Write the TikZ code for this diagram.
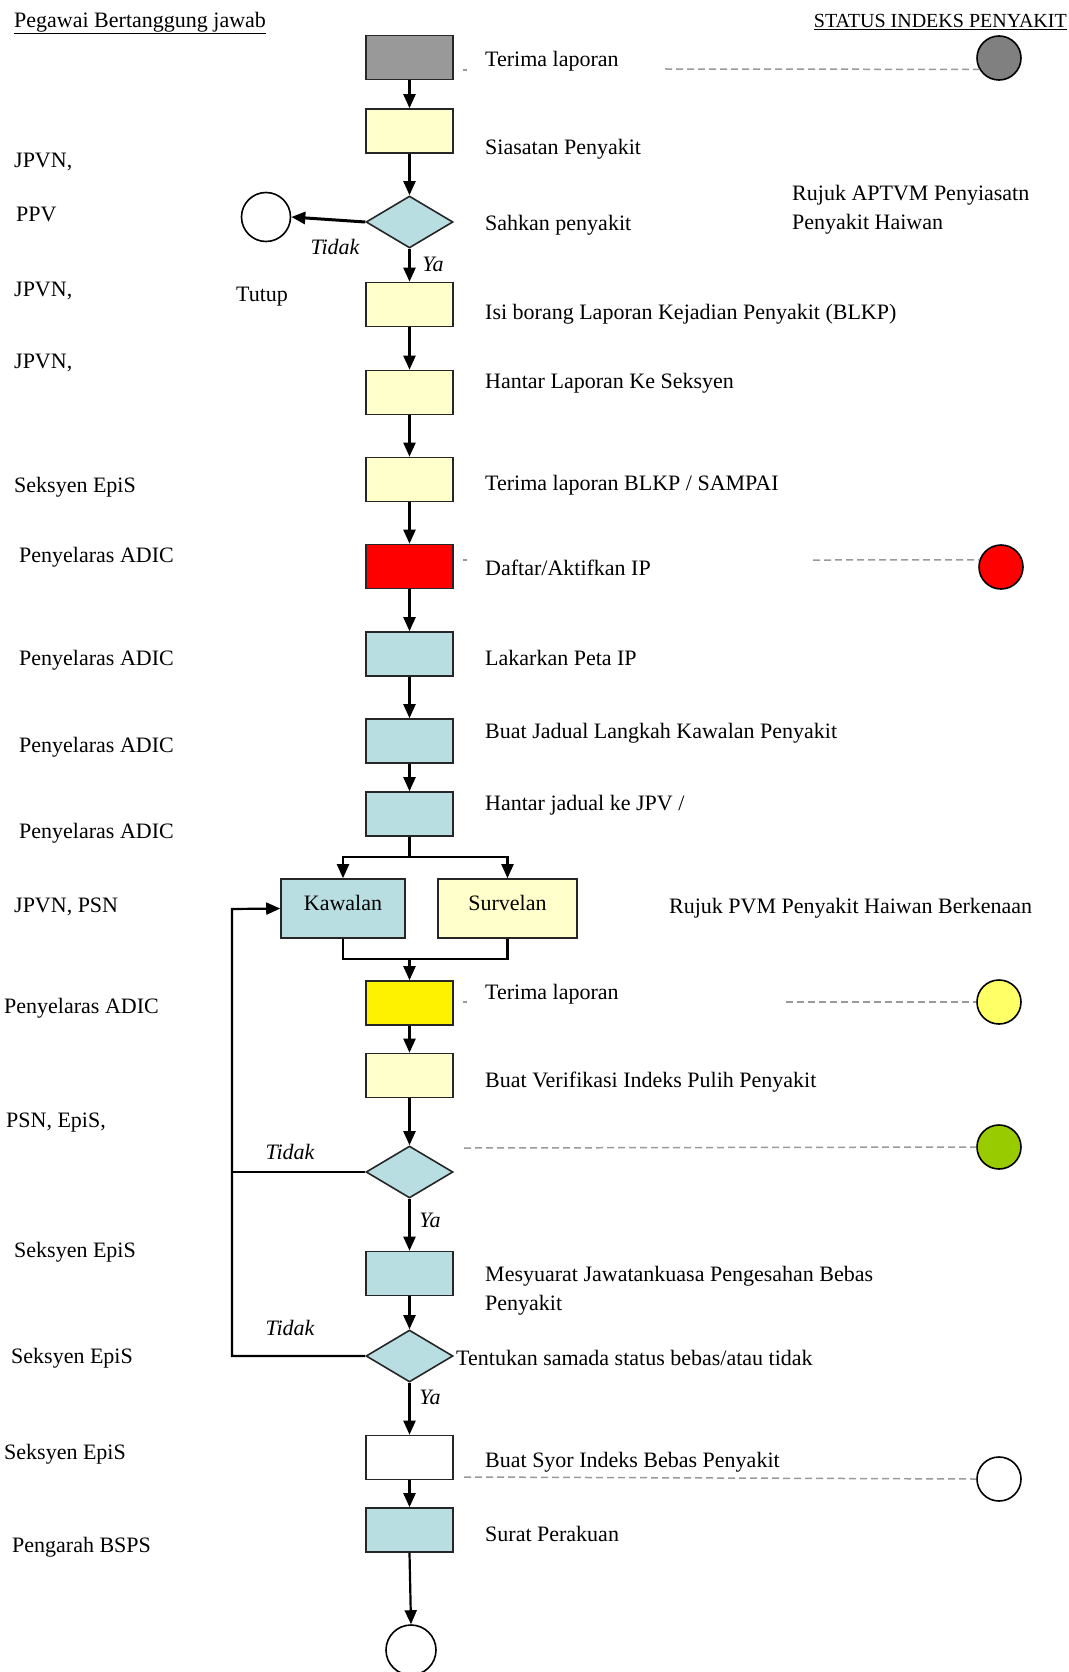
\documentclass[tikz,border=0pt]{standalone}
\usepackage{fontspec}
\setmainfont{Liberation Serif}
\usetikzlibrary{arrows.meta,shapes.geometric}
\definecolor{boxgray}{HTML}{999999}
\definecolor{circgray}{HTML}{808080}
\definecolor{lyellow}{HTML}{FFFFCC}
\definecolor{lblue}{RGB}{185,222,226}
\definecolor{pyellow}{HTML}{FFFF66}
\definecolor{lgreen}{HTML}{99CC00}
\definecolor{dashgray}{HTML}{9A9A9A}
\tikzset{
  pbox/.style={draw=black!85, line width=1.6pt, minimum width=87pt, minimum height=44pt, inner sep=0pt},
  pdia/.style={diamond, draw=black!85, line width=1.6pt, fill=lblue, minimum width=87pt, minimum height=52pt, inner sep=0pt},
  stcirc/.style={circle, draw=black, line width=1.6pt, minimum size=44pt, inner sep=0pt},
  lbl/.style={anchor=west, inner sep=0pt, font=\fontsize{22}{29}\selectfont, text height=18pt, text depth=1pt},
  itl/.style={inner sep=0pt, font=\fontsize{22}{29}\selectfont\itshape},
  arr/.style={line width=2.2pt, -{Triangle[length=14pt,width=12pt]}},
  ln/.style={line width=2.2pt},
  dsh/.style={draw=dashgray, line width=1.5pt, dash pattern=on 7pt off 4pt}
}
\begin{document}
\begin{tikzpicture}[x=1pt,y=-1pt]
\useasboundingbox (0,0) rectangle (1068,1672);
% headers
\node[lbl] (h1) at (14,19) {\underline{Pegawai Bertanggung jawab}};
\node[lbl, anchor=east, font=\fontsize{20}{24}\selectfont] (h2) at (1067,19) {\underline{STATUS INDEKS PENYAKIT}};
% main column
\node[pbox, fill=boxgray] (b1) at (409.5,57.5) {};
\node[pbox, fill=lyellow] (b2) at (409.5,131) {};
\node[pdia] (d1) at (409.5,222) {};
\node[pbox, fill=lyellow] (b3) at (409.5,304.5) {};
\node[pbox, fill=lyellow] (b4) at (409.5,392.5) {};
\node[pbox, fill=lyellow] (b5) at (409.5,479.5) {};
\node[pbox, fill=red] (b6) at (409.5,566.5) {};
\node[pbox, fill=lblue] (b7) at (409.5,654) {};
\node[pbox, fill=lblue] (b8) at (409.5,741) {};
\node[pbox, fill=lblue] (b9) at (409.5,814) {};
\node[pbox, fill=lblue, minimum width=124pt, minimum height=59pt, inner xsep=0pt, inner ysep=4pt, text height=27pt, text depth=24pt, font=\fontsize{22}{29}\selectfont] (kaw) at (343,908.5) {Kawalan};
\node[pbox, fill=lyellow, minimum width=139pt, minimum height=59pt, inner xsep=0pt, inner ysep=4pt, text height=27pt, text depth=24pt, font=\fontsize{22}{29}\selectfont] (sur) at (507.5,908.5) {Survelan};
\node[pbox, fill=yellow] (b10) at (409.5,1003) {};
\node[pbox, fill=lyellow] (b11) at (409.5,1075.5) {};
\node[pdia] (d2) at (409.5,1172) {};
\node[pbox, fill=lblue] (b12) at (409.5,1273.5) {};
\node[pdia] (d3) at (409.5,1356) {};
\node[pbox, fill=white] (b13) at (409.5,1457.5) {};
\node[pbox, fill=lblue] (b14) at (409.5,1530) {};
\node[circle, draw=black, line width=1.6pt, minimum size=50pt, inner sep=0pt] (endc) at (411,1650) {};
\node[circle, draw=black, line width=1.6pt, minimum size=49pt, inner sep=0pt] (tutupc) at (266,217) {};
% status circles
\node[stcirc, fill=circgray] (c1) at (999,58) {};
\node[stcirc, fill=red] (c2) at (1001,567) {};
\node[stcirc, fill=pyellow] (c3) at (999,1002) {};
\node[stcirc, fill=lgreen] (c4) at (999,1147) {};
\node[stcirc, fill=white] (c5) at (999,1479) {};
% dashed lines
\coordinate (g0) at (463,70); \coordinate (g1) at (467,70);
\coordinate (g2) at (665,69);
\draw[dsh] (g0) -- (g1);
\draw[dsh] (g2) -- (c1.210);
\coordinate (r0) at (463,560); \coordinate (r1) at (467,560);
\coordinate (r2) at (813,560);
\draw[dsh] (r0) -- (r1);
\draw[dsh] (r2) -- (c2.162);
\coordinate (y0) at (463,1002); \coordinate (y1) at (467,1002);
\coordinate (y2) at (786,1002);
\draw[dsh] (y0) -- (y1);
\draw[dsh] (y2) -- (c3.west);
\coordinate (gr2) at (464,1148);
\draw[dsh] (gr2) -- (c4.west);
\coordinate (w2) at (464,1477);
\draw[dsh] (w2) -- (c5.west);
% connectors
\draw[arr] (b1) -- (b2);
\draw[arr] (b2) -- (d1);
\draw[arr] (d1) -- (b3);
\draw[line width=3pt, -{Triangle[length=14pt,width=12pt]}] (d1.west) -- (tutupc.east);
\draw[arr] (b3) -- (b4);
\draw[arr] (b4) -- (b5);
\draw[arr] (b5) -- (b6);
\draw[arr] (b6) -- (b7);
\draw[arr] (b7) -- (b8);
\draw[arr] (b8) -- (b9);
\coordinate (split) at (409.5,857);
\draw[ln] (b9.south) -- (split);
\draw[arr] (split) -| (kaw.north);
\draw[arr] (split) -| (sur.north);
\coordinate (merge) at (409.5,959);
\draw[ln] (kaw.south) |- (merge);
\draw[ln] (sur.south) |- (merge);
\draw[arr] (merge) -- (b10.north);
\draw[arr] (b10) -- (b11);
\draw[arr] (b11) -- (d2);
\draw[arr] (d2) -- (b12);
\draw[arr] (b12) -- (d3);
\draw[arr] (d3) -- (b13);
\draw[arr] (b13) -- (b14);
\draw[arr] (b14.south) -- (endc.north);
\coordinate (loopb) at (232,1356);
\coordinate (loopt) at (232,909);
\coordinate (loopm) at (232,1172);
\draw[ln] (d2.west) -- (loopm);
\draw[arr] (d3.west) -- (loopb) -- (loopt) -- (kaw.west);
% connector labels
\node[itl] (t1) at (335,247) {Tidak};
\node[itl] (y1l) at (433,264) {Ya};
\node[itl] (t2) at (290,1152) {Tidak};
\node[itl] (y2l) at (430,1220) {Ya};
\node[itl] (t3) at (290,1328) {Tidak};
\node[itl] (y3l) at (430,1397) {Ya};
% step texts
\node[lbl] (s1) at (485,58) {Terima laporan};
\node[lbl] (s2) at (485,146) {Siasatan Penyakit};
\node[lbl] (s3) at (485,222) {Sahkan penyakit};
\node[lbl, align=left, text height=, text depth=] (s3r) at (792,210) {Rujuk APTVM Penyiasatn\\Penyakit Haiwan};
\node[lbl] (tut) at (236,293) {Tutup};
\node[lbl] (s4) at (485,311) {Isi borang Laporan Kejadian Penyakit (BLKP)};
\node[lbl] (s5) at (485,380) {Hantar Laporan Ke Seksyen};
\node[lbl] (s6) at (485,482) {Terima laporan BLKP / SAMPAI};
\node[lbl] (s7) at (485,567) {Daftar/Aktifkan IP};
\node[lbl] (s8) at (485,657) {Lakarkan Peta IP};
\node[lbl] (s9) at (485,730) {Buat Jadual Langkah Kawalan Penyakit};
\node[lbl] (s10) at (485,802) {Hantar jadual ke JPV /};
\node[lbl] (s11) at (669,905) {Rujuk PVM Penyakit Haiwan Berkenaan};
\node[lbl] (s12) at (485,991) {Terima laporan};
\node[lbl] (s13) at (485,1079) {Buat Verifikasi Indeks Pulih Penyakit};
\node[lbl, align=left, text height=, text depth=] (s14) at (485,1291) {Mesyuarat Jawatankuasa Pengesahan Bebas\\Penyakit};
\node[lbl] (s15) at (456,1357) {Tentukan samada status bebas/atau tidak};
\node[lbl] (s16) at (485,1459) {Buat Syor Indeks Bebas Penyakit};
\node[lbl] (s17) at (485,1533) {Surat Perakuan};
% responsible officers
\node[lbl] (p1) at (14,159) {JPVN,};
\node[lbl] (p2) at (16,213) {PPV};
\node[lbl] (p3) at (14,288) {JPVN,};
\node[lbl] (p4) at (14,360) {JPVN,};
\node[lbl] (p5) at (14,484) {Seksyen EpiS};
\node[lbl] (p6) at (19,554) {Penyelaras ADIC};
\node[lbl] (p7) at (19,657) {Penyelaras ADIC};
\node[lbl] (p8) at (19,744) {Penyelaras ADIC};
\node[lbl] (p9) at (19,830) {Penyelaras ADIC};
\node[lbl] (p10) at (14,904) {JPVN, PSN};
\node[lbl] (p11) at (4,1005) {Penyelaras ADIC};
\node[lbl] (p12) at (6,1119) {PSN, EpiS,};
\node[lbl] (p13) at (14,1249) {Seksyen EpiS};
\node[lbl] (p14) at (11,1355) {Seksyen EpiS};
\node[lbl] (p15) at (4,1451) {Seksyen EpiS};
\node[lbl] (p16) at (12,1544) {Pengarah BSPS};
\end{tikzpicture}
\end{document}
